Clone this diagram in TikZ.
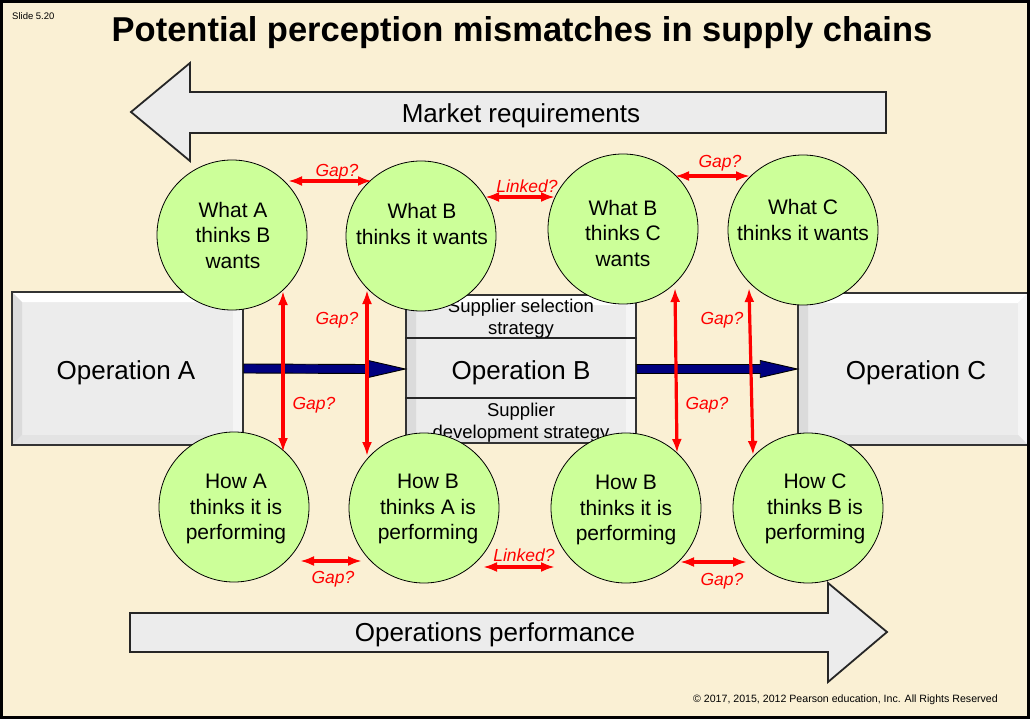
\documentclass[tikz,border=0pt]{standalone}
\usepackage{fontspec}
\setmainfont{Liberation Sans}
\usetikzlibrary{arrows.meta,calc}
\definecolor{cream}{RGB}{250,240,212}
\definecolor{bubgreen}{RGB}{204,255,153}
\definecolor{navyb}{RGB}{0,0,128}
\definecolor{boxgray}{RGB}{236,236,236}
\definecolor{gapred}{RGB}{255,0,0}
\begin{document}
\begin{tikzpicture}[x=1pt,y=-1pt,
  txt/.style={inner sep=0pt,align=center},
  bigarrow/.style={fill=boxgray,draw=black!85,line width=1.8pt,line join=miter},
  bigtext/.style={txt,font=\fontsize{26}{30}\selectfont},
  opbox/.style={rectangle,fill=boxgray,draw=black!80,line width=1.5pt,inner sep=0pt,
    path picture={
      \fill[white] (path picture bounding box.north west) -- (path picture bounding box.north east)
        -- ([shift={(-10pt,-10pt)}]path picture bounding box.north east)
        -- ([shift={(10pt,-10pt)}]path picture bounding box.north west) -- cycle;
      \fill[black!14] (path picture bounding box.north west) -- ([shift={(10pt,-10pt)}]path picture bounding box.north west)
        -- ([shift={(10pt,10pt)}]path picture bounding box.south west) -- (path picture bounding box.south west) -- cycle;
      \fill[white!96!black] (path picture bounding box.north east) -- ([shift={(-10pt,-10pt)}]path picture bounding box.north east)
        -- ([shift={(-10pt,10pt)}]path picture bounding box.south east) -- (path picture bounding box.south east) -- cycle;
      \fill[black!11] (path picture bounding box.south west) -- ([shift={(10pt,10pt)}]path picture bounding box.south west)
        -- ([shift={(-10pt,10pt)}]path picture bounding box.south east) -- (path picture bounding box.south east) -- cycle;
    }},
  optext/.style={txt,font=\fontsize{26}{30}\selectfont},
  subtext/.style={txt,font=\fontsize{18.5}{22}\selectfont},
  bub/.style={circle,draw=black,line width=0.8pt,fill=bubgreen,minimum size=150pt,inner sep=0pt},
  bubtext/.style={txt,font=\fontsize{21}{25.5}\selectfont},
  gaparrow/.style={draw=gapred,line width=3.2pt,{Latex[length=14pt,width=10pt]}-{Latex[length=14pt,width=10pt]}},
  gaplabel/.style={txt,text=gapred,font=\fontsize{17.5}{20}\itshape\selectfont},
  flow/.style={fill=navyb,draw=black,line width=0.9pt,line join=miter}
]
\useasboundingbox (0,0) rectangle (1030,719);
\fill[cream] (0,0) rectangle (1030,719);

% title and small texts
\node[txt,font=\fontsize{34.5}{40}\bfseries\selectfont] (title) at (522,33) {Potential perception mismatches in supply chains};
\node[txt,anchor=west,font=\fontsize{9.5}{11}\selectfont] (slide) at (12,16) {Slide 5.20};
\node[txt,anchor=east,font=\fontsize{10.6}{12}\selectfont] (copy) at (998,700) {\textcopyright{} 2017, 2015, 2012 Pearson education, Inc. All Rights Reserved};

% big arrows
\draw[bigarrow] (131,112) -- (190,63) -- (190,92) -- (886,92) -- (886,133) -- (190,133) -- (190,161) -- cycle;
\node[bigtext] (mr) at (521,116) {Market requirements};
\draw[bigarrow] (887,632) -- (828,583) -- (828,613) -- (130,613) -- (130,652) -- (828,652) -- (828,682) -- cycle;
\node[bigtext] (opp) at (495,635) {Operations performance};

% operation boxes
\node[opbox,minimum width=231pt,minimum height=153pt] (opA) at (127.5,368.5) {};
\node[optext] (opAt) at (126,373) {Operation A};
\node[opbox,minimum width=230pt,minimum height=152pt] (opC) at (913,369) {};
\node[optext] (opCt) at (916,373) {Operation C};
\node[opbox,minimum width=230pt,minimum height=148pt] (opB) at (521,369) {};
\draw[black!85,line width=1.5pt] (opB.west |- 0,338) coordinate (l1a) -- (opB.east |- 0,338) coordinate (l1b);
\draw[black!85,line width=1.5pt] (opB.west |- 0,398) coordinate (l2a) -- (opB.east |- 0,398) coordinate (l2b);
\node[optext] (opBt) at (521,373) {Operation B};
\node[subtext] (sel) at (521,319) {Supplier selection\\strategy};
\node[subtext] (dev) at (521,423) {Supplier\\development strategy};

% flow arrows (node to node)
\path (opA.east) coordinate (fa1) (opB.west) coordinate (fa2)
      (opB.east) coordinate (fb1) (opC.west) coordinate (fb2);
\draw[flow] ($(fa1)+(0,-4.5)$) -- ($(fa2)+(-37,-4.5)$) -- ($(fa2)+(-37,-8.5)$) -- (fa2)
   -- ($(fa2)+(-37,8.5)$) -- ($(fa2)+(-37,4.5)$) -- ($(fa1)+(0,4.5)$) -- cycle;
\draw[flow] ($(fb1)+(0,-4.5)$) -- ($(fb2)+(-37,-4.5)$) -- ($(fb2)+(-37,-8.5)$) -- (fb2)
   -- ($(fb2)+(-37,8.5)$) -- ($(fb2)+(-37,4.5)$) -- ($(fb1)+(0,4.5)$) -- cycle;

% circles
\node[bub] (c1) at (232,235) {};
\node[bub] (c2) at (421,236) {};
\node[bub] (c3) at (623,229) {};
\node[bub] (c4) at (803,230) {};
\node[bub] (d1) at (234,507) {};
\node[bub] (d2) at (424,508) {};
\node[bub] (d3) at (626,508) {};
\node[bub] (d4) at (808,508) {};
\node[bubtext] (c1t) at (233,235) {What A\\thinks B\\wants};
\node[bubtext] (c2t) at (422,224) {What B\\thinks it wants};
\node[bubtext] (c3t) at (623,233) {What B\\thinks C\\wants};
\node[bubtext] (c4t) at (803,220) {What C\\thinks it wants};
\node[bubtext] (d1t) at (236,509) {How A\\thinks it is\\performing};
\node[bubtext] (d2t) at (428,509) {How B\\thinks A is\\performing};
\node[bubtext] (d3t) at (626,510) {How B\\thinks it is\\performing};
\node[bubtext] (d4t) at (815,509) {How C\\thinks B is\\performing};

% gap arrow end points
\coordinate (t1a) at (288,181); \coordinate (t1b) at (372,181);
\coordinate (t2a) at (485,197); \coordinate (t2b) at (555,197);
\coordinate (t3a) at (675,176); \coordinate (t3b) at (750,176);
\coordinate (v1a) at (283,291); \coordinate (v1b) at (283,452);
\coordinate (v2a) at (367,290); \coordinate (v2b) at (367,456);
\coordinate (v3a) at (675,288); \coordinate (v3b) at (677,453);
\coordinate (v4a) at (749,288); \coordinate (v4b) at (753,455);
\coordinate (b1a) at (300,561); \coordinate (b1b) at (362,561);
\coordinate (b2a) at (483,567); \coordinate (b2b) at (555,567);
\coordinate (b3a) at (680,562); \coordinate (b3b) at (747,562);

\foreach \p in {t1,t2,t3,v1,v2,v3,v4,b1,b2,b3}{\draw[gaparrow] (\p a) -- (\p b);}

\node[gaplabel] (g1) at (337,172) {Gap?};
\node[gaplabel] (g2) at (527,186) {Linked?};
\node[gaplabel] (g3) at (720,163) {Gap?};
\node[gaplabel] (g4) at (314,405) {Gap?};
\node[gaplabel] (g5) at (337,320) {Gap?};
\node[gaplabel] (g6) at (707,405) {Gap?};
\node[gaplabel] (g7) at (722,320) {Gap?};
\node[gaplabel] (g8) at (333,579) {Gap?};
\node[gaplabel] (g9) at (524,555) {Linked?};
\node[gaplabel] (g10) at (722,581) {Gap?};

\draw[line width=2.5pt] (1.5,1.5) rectangle (1028.5,717.5);
\end{tikzpicture}
\end{document}
